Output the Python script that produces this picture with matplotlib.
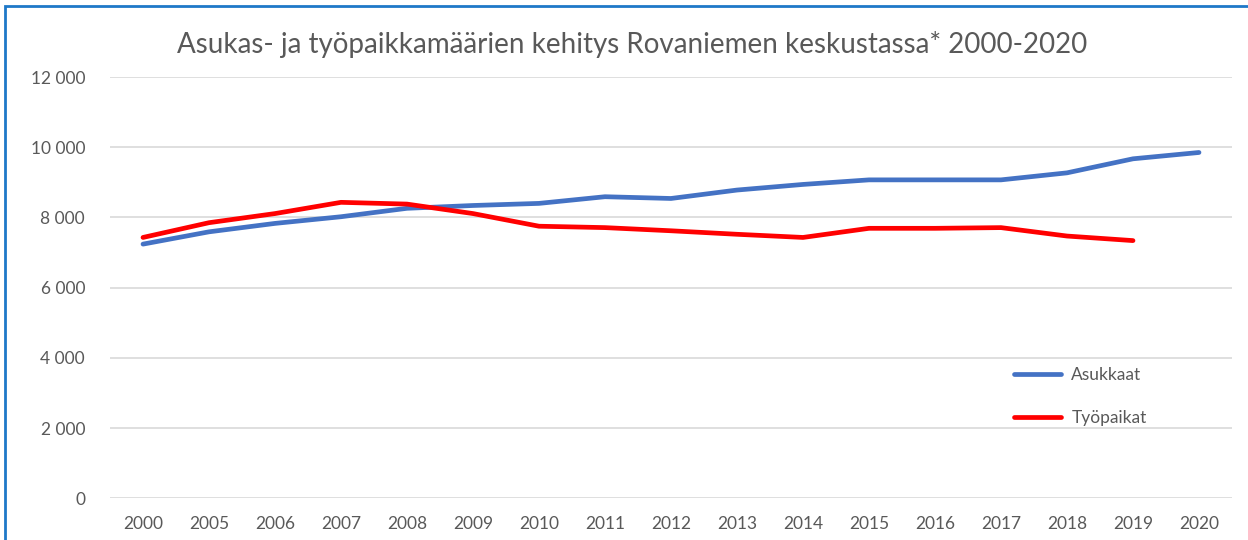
import matplotlib
matplotlib.use("Agg")
import matplotlib.pyplot as plt
from matplotlib.ticker import FuncFormatter
from matplotlib.patches import Rectangle

# data
years = ["2000", "2005", "2006", "2007", "2008", "2009", "2010", "2011", "2012",
         "2013", "2014", "2015", "2016", "2017", "2018", "2019", "2020"]
asukkaat = [7240, 7590, 7830, 8020, 8260, 8340, 8400, 8590, 8540,
            8780, 8940, 9070, 9070, 9070, 9270, 9670, 9850]
tyopaikat = [7430, 7850, 8110, 8430, 8380, 8110, 7750, 7710, 7620,
             7520, 7430, 7690, 7690, 7710, 7470, 7340]

plt.rcParams["font.family"] = ["Lato", "DejaVu Sans"]
grey = "#595959"

fig = plt.figure(figsize=(12.48, 5.4), dpi=100)
ax = fig.add_axes([110/1248, 41.7/540, 1122/1248, 421.3/540])

x = list(range(len(years)))
ax.plot(x, asukkaat, color="#4472C4", lw=3.4, solid_capstyle="round", label="Asukkaat")
ax.plot(x[:len(tyopaikat)], tyopaikat, color="#FF0000", lw=3.4, solid_capstyle="round", label="Työpaikat")

ax.set_xlim(-0.5, len(years) - 0.5)
ax.set_ylim(0, 12000)
ax.set_yticks(range(0, 12001, 2000))
ax.yaxis.set_major_formatter(FuncFormatter(lambda v, p: f"{int(v):,}".replace(",", " ")))
ax.set_xticks(x)
ax.set_xticklabels(years)
ax.tick_params(axis="both", length=0, labelsize=12.5, colors=grey)
ax.tick_params(axis="y", pad=18)
ax.tick_params(axis="x", pad=13)
ax.grid(axis="y", color="#D9D9D9", lw=1.2)
ax.set_axisbelow(True)
for s in ax.spines.values():
    s.set_visible(False)

fig.text(632/1248, 1 - 45/540, "Asukas- ja työpaikkamäärien kehitys Rovaniemen keskustassa* 2000-2020",
         ha="center", va="center", fontsize=20, color=grey)

leg = fig.legend(loc="upper left", bbox_to_anchor=(998/1248, 1 - 351/540), frameon=False,
                 fontsize=12.5, handlelength=2.7, labelspacing=1.6, handletextpad=0.63)
for t in leg.get_texts():
    t.set_color(grey)

# blue frame around the chart
fig.patches.append(Rectangle((5/1248, -0.1), 1.2, 1 - 6/540 + 0.1, transform=fig.transFigure,
                             fill=False, edgecolor="#1E78C8", lw=2))

fig.savefig("out.png", dpi=100)
